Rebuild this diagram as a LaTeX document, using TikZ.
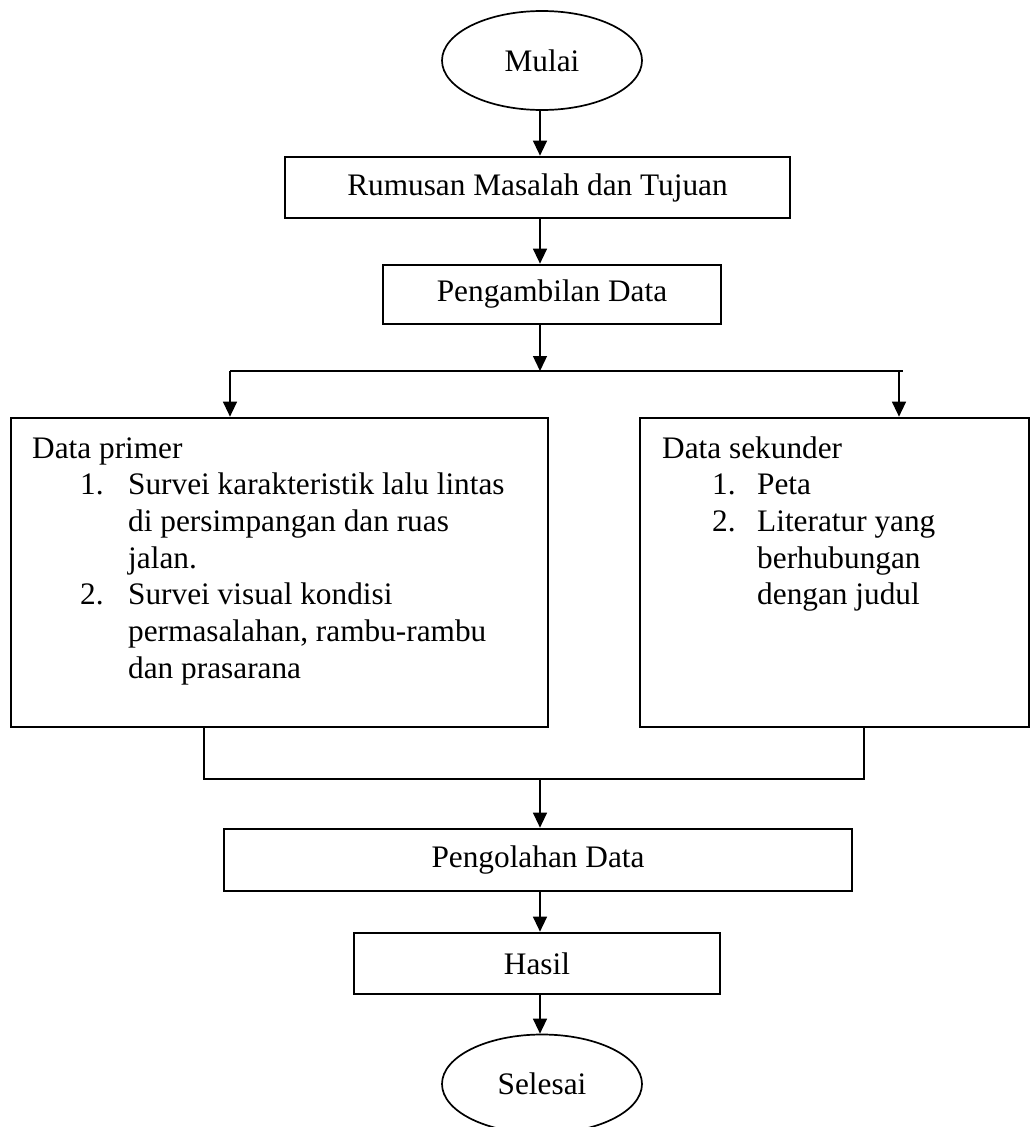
\documentclass[tikz,border=0pt]{standalone}
\usepackage{fontspec}
\setmainfont{Liberation Serif}
\usetikzlibrary{shapes.geometric,arrows.meta}
\begin{document}
\begin{tikzpicture}[x=1pt,y=-1pt,
  every node/.style={font=\fontsize{31.3}{36.7}\selectfont},
  box/.style={draw,line width=2.7pt,inner sep=0pt,rectangle},
  oval/.style={draw,line width=1.7pt,ellipse,inner sep=0pt,minimum width=200pt,minimum height=99pt},
  arr/.style={line width=1.3pt,-{Triangle[length=15pt,width=14pt]}},
  joint/.style={line width=2.7pt},
  txt/.style={anchor=base west,inner sep=0pt}]
\useasboundingbox (0,0) rectangle (1031,1127);
\coordinate (ax) at (540,0);
% main nodes
\node[oval] (mulai) at (542,60.5) {Mulai};
\node[box,minimum width=505pt,minimum height=61pt] (rumus) at (537.5,187.5) {Rumusan Masalah dan Tujuan};
\node[box,minimum width=338pt,minimum height=59pt] (ambil) at (552,294.5) {Pengambilan Data};
\node[box,minimum width=537pt,minimum height=309pt] (primer) at (279.5,572.5) {};
\node[box,minimum width=389pt,minimum height=309pt] (sekunder) at (834.5,572.5) {};
\node[box,minimum width=628pt,minimum height=62pt] (olah) at (538,860) {Pengolahan Data};
\node[box,minimum width=366pt,minimum height=61pt] (hasil) at (537,963.5) {Hasil};
\node[oval] (selesai) at (542,1084) {Selesai};
% Data primer text
\node[txt] (p0) at (32,458) {Data primer};
\node[txt] (p1) at (80,494.7) {\makebox[48pt][l]{1.}Survei karakteristik lalu lintas};
\node[txt] (p2) at (128,531.4) {di persimpangan dan ruas};
\node[txt] (p3) at (128,568.1) {jalan.};
\node[txt] (p4) at (80,604.8) {\makebox[48pt][l]{2.}Survei visual kondisi};
\node[txt] (p5) at (128,641.5) {permasalahan, rambu-rambu};
\node[txt] (p6) at (128,678.2) {dan prasarana};
% Data sekunder text
\node[txt] (s0) at (662,458) {Data sekunder};
\node[txt] (s1) at (712,494.7) {\makebox[45pt][l]{1.}Peta};
\node[txt] (s2) at (712,531.4) {\makebox[45pt][l]{2.}Literatur yang};
\node[txt] (s3) at (757,568.1) {berhubungan};
\node[txt] (s4) at (757,604.8) {dengan judul};
% connectors
\draw[arr] (ax |- mulai.south) -- (ax |- rumus.north);
\draw[arr] (ax |- rumus.south) -- (ax |- ambil.north);
\coordinate (sl) at (230,371);
\coordinate (sr) at (899,371);
\coordinate (se) at (903,371);
\draw[arr] (ax |- ambil.south) -- (ax |- sl);
\draw[joint] (sl) -- (se);
\draw[arr] (sl) -- (sl |- primer.north);
\draw[arr] (sr) -- (sr |- sekunder.north);
\coordinate (bl) at (204,779);
\coordinate (br) at (864,779);
\draw[joint] (primer.south -| bl) -- (bl) -- (br) -- (sekunder.south -| br);
\draw[arr] (ax |- bl) -- (ax |- olah.north);
\draw[arr] (ax |- olah.south) -- (ax |- hasil.north);
\draw[arr] (ax |- hasil.south) -- (ax |- selesai.north);
\end{tikzpicture}
\end{document}
